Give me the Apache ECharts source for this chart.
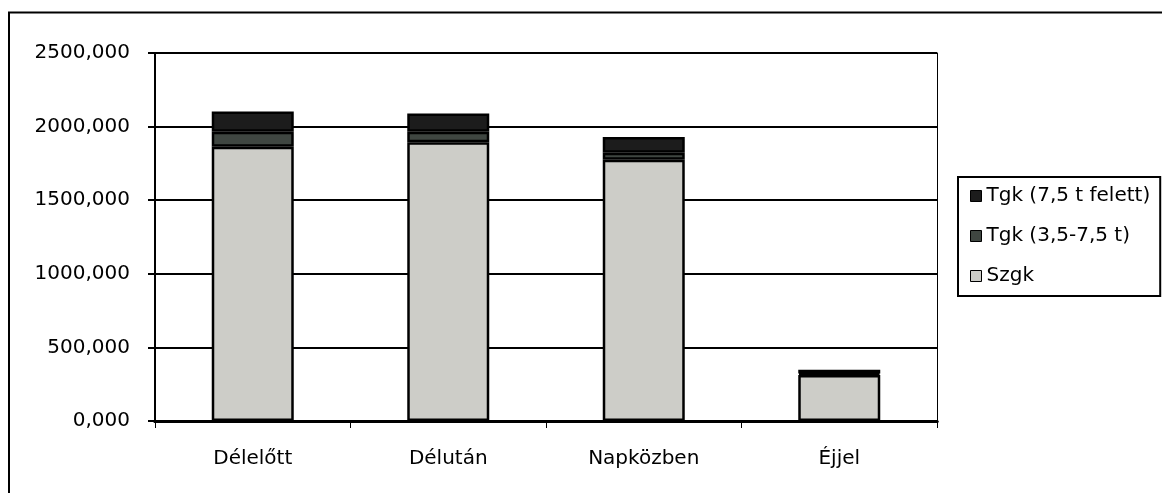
<!DOCTYPE html>
<html>
<head>
<meta charset="utf-8">
<script src="https://cdn.jsdelivr.net/npm/echarts@6/dist/echarts.min.js"></script>
<style>
  html, body { margin: 0; padding: 0; background: #ffffff; }
  #chart { width: 1162px; height: 493px; }
</style>
</head>
<body>
<div id="chart"></div>
<script>
// Napszakok szerinti forgalom járműkategóriánként (halmozott oszlopok)
const categories = ['Délelőtt', 'Délután', 'Napközben', 'Éjjel'];
const szgk = [1863, 1893, 1775, 312];
const tgkMid = [102, 72, 47, 10];
const tgkHeavy = [137, 124, 108, 27];
const seriesNames = ['Szgk', 'Tgk (3,5-7,5 t)', 'Tgk (7,5 t felett)'];
const legendOrder = ['Tgk (7,5 t felett)', 'Tgk (3,5-7,5 t)', 'Szgk'];
const yMin = 0, yMax = 2500, yStep = 500;

const FONT = 'DejaVu Sans';
const colors = ['#cdcdc8', '#3f4641', '#1c1c1c'];

function fmt(v) {
  return v.toFixed(3).replace('.', ',');
}

const chart = echarts.init(document.getElementById('chart'), null, { renderer: 'canvas' });

const barBase = {
  type: 'bar',
  stack: 'total',
  barWidth: 82,
  emphasis: { disabled: true },
  animation: false
};

chart.setOption({
  backgroundColor: '#ffffff',
  animation: false,
  textStyle: { fontFamily: FONT, color: '#000' },
  grid: { left: 155, right: 225, top: 53, bottom: 72, containLabel: false },
  legend: {
    data: legendOrder,
    orient: 'vertical',
    left: 958,
    top: 177,
    padding: [9, 10, 10, 12],
    borderColor: '#000',
    borderWidth: 2,
    itemWidth: 11,
    itemHeight: 11,
    itemGap: 20,
    icon: 'rect',
    itemStyle: { borderColor: '#000', borderWidth: 1 },
    textStyle: { fontFamily: FONT, fontSize: 20, color: '#000', lineHeight: 20 }
  },
  xAxis: [
    {
      type: 'category',
      data: categories,
      position: 'bottom',
      axisLine: { show: true, lineStyle: { color: '#000', width: 3 } },
      axisTick: { show: true, length: 7, alignWithLabel: false, lineStyle: { color: '#000', width: 1 } },
      axisLabel: { margin: 28, fontFamily: FONT, fontSize: 20, color: '#000' },
      splitLine: { show: false }
    },
    {
      type: 'category',
      data: categories,
      position: 'top',
      axisLine: { show: true, lineStyle: { color: '#000', width: 3 } },
      axisTick: { show: false },
      axisLabel: { show: false },
      splitLine: { show: false }
    }
  ],
  yAxis: [
    {
      type: 'value',
      min: yMin,
      max: yMax,
      interval: yStep,
      position: 'left',
      axisLine: { show: true, lineStyle: { color: '#000', width: 2 } },
      axisTick: { show: true, length: 7, lineStyle: { color: '#000', width: 2 } },
      axisLabel: { margin: 25, fontFamily: FONT, fontSize: 20, color: '#000', formatter: fmt },
      splitLine: { show: true, lineStyle: { color: '#000', width: 2 } }
    },
    {
      type: 'value',
      min: yMin,
      max: yMax,
      interval: yStep,
      position: 'right',
      axisLine: { show: true, lineStyle: { color: '#000', width: 1 } },
      axisTick: { show: false },
      axisLabel: { show: false },
      splitLine: { show: false }
    }
  ],
  series: [
    Object.assign({}, barBase, {
      name: seriesNames[0], data: szgk,
      itemStyle: { color: colors[0], borderColor: '#000', borderWidth: 2.5 }
    }),
    Object.assign({}, barBase, {
      name: seriesNames[1], data: tgkMid,
      itemStyle: { color: colors[1], borderColor: '#000', borderWidth: 2.5 }
    }),
    Object.assign({}, barBase, {
      name: seriesNames[2], data: tgkHeavy,
      itemStyle: { color: colors[2], borderColor: '#000', borderWidth: 2.5 }
    })
  ],
  graphic: [
    {
      // outer chart frame, running past the right and bottom edges
      type: 'rect',
      silent: true,
      z: 100,
      shape: { x: 9, y: 12.5, width: 1300, height: 600 },
      style: { fill: null, stroke: '#000', lineWidth: 2 }
    }
  ]
});
</script>
</body>
</html>
